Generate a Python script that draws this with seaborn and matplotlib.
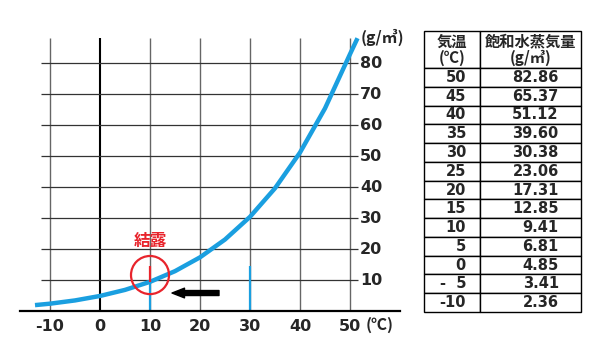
import matplotlib
matplotlib.use("Agg")
import matplotlib.pyplot as plt
from matplotlib.patches import Ellipse
import seaborn as sns
import pandas as pd

# table values (temperature in C, saturated vapour in g/m3)
table_temp = [50, 45, 40, 35, 30, 25, 20, 15, 10, 5, 0, -5, -10]
table_vapor = [82.86, 65.37, 51.12, 39.60, 30.38, 23.06, 17.31, 12.85, 9.41, 6.81, 4.85, 3.41, 2.36]
table_temp_labels = ["50", "45", "40", "35", "30", "25", "20", "15", "10", "5", "0", "-  5", "-10"]
table_vapor_labels = ["82.86", "65.37", "51.12", "39.60", "30.38", "23.06", "17.31",
                      "12.85", "9.41", "6.81", "4.85", "3.41", "2.36"]

# curve ends
curve_start = (-13, 1.9)
curve_end = (51.5, 88.0)

xticks = [-10, 0, 10, 20, 30, 40, 50]
yticks = [10, 20, 30, 40, 50, 60, 70, 80]

dew_temp = 10
dew_vapor = 9.41
air_temp = 30
air_vapor = 14.6
arrow_from = 23.8
arrow_to = 14.4
arrow_y = 5.8

BLUE = "#1a9fe0"
RED = "#e8242c"

sns.set_theme(style="white")
plt.rcParams["font.family"] = ["Noto Sans CJK JP", "DejaVu Sans"]

curve = pd.DataFrame({
    "temp": [curve_start[0]] + table_temp[::-1] + [curve_end[0]],
    "vapor": [curve_start[1]] + table_vapor[::-1] + [curve_end[1]],
})

fig = plt.figure(figsize=(6, 3.52), dpi=100)
ax = fig.add_axes([20 / 600, 41 / 352, 380 / 600, 281 / 352])
ax.set_xlim(-16, 60)
ax.set_ylim(0, 90.65)
ax.set_facecolor("white")
for s in ["top", "right", "left"]:
    ax.spines[s].set_visible(False)
ax.spines["bottom"].set_color("black")
ax.spines["bottom"].set_linewidth(1.6)

# grid
for x in xticks:
    ax.vlines(x, 0, 88, color="black" if x == 0 else "#666666",
              lw=1.5 if x == 0 else 1.0, zorder=1)
ax.hlines(yticks, -11.8, 51.6, color="#333333", lw=0.9, zorder=1)

sns.lineplot(data=curve, x="temp", y="vapor", ax=ax, color=BLUE, lw=3.2,
             zorder=3, solid_capstyle="butt", solid_joinstyle="round")
ax.set_xlabel("")
ax.set_ylabel("")

# dew point / air lines
ax.vlines(dew_temp, 0, dew_vapor, color=BLUE, lw=1.6, zorder=2)
ax.vlines(dew_temp, dew_vapor, 14.5, color=RED, lw=1.6, zorder=4)
ax.vlines(air_temp, 0, air_vapor, color=BLUE, lw=1.6, zorder=2)
ax.add_patch(Ellipse((dew_temp, 11.6), 7.6, 12.3, fill=False, ec=RED, lw=1.6, zorder=4))
ax.text(dew_temp, 22.5, "結露", color=RED, fontsize=12, fontweight="bold",
        ha="center", va="center")
ax.annotate("", xy=(arrow_to, arrow_y), xytext=(arrow_from, arrow_y),
            arrowprops=dict(facecolor="black", edgecolor="black", width=3.6,
                            headwidth=7, headlength=9, shrink=0), zorder=5)

# axis labels
ax.set_xticks(xticks)
ax.set_xticklabels([str(x) for x in xticks], fontsize=11.5, fontweight="bold",
                   family="DejaVu Sans")
ax.tick_params(axis="x", length=0, pad=6)
ax.set_yticks([])
for y in yticks:
    ax.text(52, y, str(y), fontsize=11.5, fontweight="bold", family="DejaVu Sans",
            ha="left", va="center")
ax.text(52.2, 88.4, "(g/㎥)", fontsize=11.5, fontweight="bold", ha="left", va="center")
ax.text(53.2, -4.6, "(℃)", fontsize=11.5, fontweight="bold", ha="left", va="center",
        clip_on=False)

# table
tax = fig.add_axes([424 / 600, 40 / 352, 157 / 600, 281 / 352])
tax.axis("off")
cells = [["気温\n(℃)", "飽和水蒸気量\n(g/㎥)"]] + \
    [[t, v] for t, v in zip(table_temp_labels, table_vapor_labels)]
tbl = tax.table(cellText=cells, colWidths=[56 / 157, 101 / 157], bbox=[0, 0, 1, 1],
                cellLoc="center")
tbl.auto_set_font_size(False)
header_h = 37 / 281
row_h = (1 - header_h) / len(table_temp)
for (r, c), cell in tbl.get_celld().items():
    cell.set_height(header_h if r == 0 else row_h)
    cell.set_linewidth(1.0)
    cell.set_edgecolor("black")
    txt = cell.get_text()
    txt.set_fontweight("bold")
    if r == 0:
        txt.set_fontsize(11)
        txt.set_fontfamily(["Noto Sans CJK JP", "DejaVu Sans"])
        txt.set_linespacing(1.0)
    else:
        txt.set_fontsize(10.5)
        txt.set_fontfamily("DejaVu Sans")
        txt.set_horizontalalignment("right")
        cell.PAD = 0.22 if c == 1 else 0.25

fig.savefig("out.png", dpi=100)
